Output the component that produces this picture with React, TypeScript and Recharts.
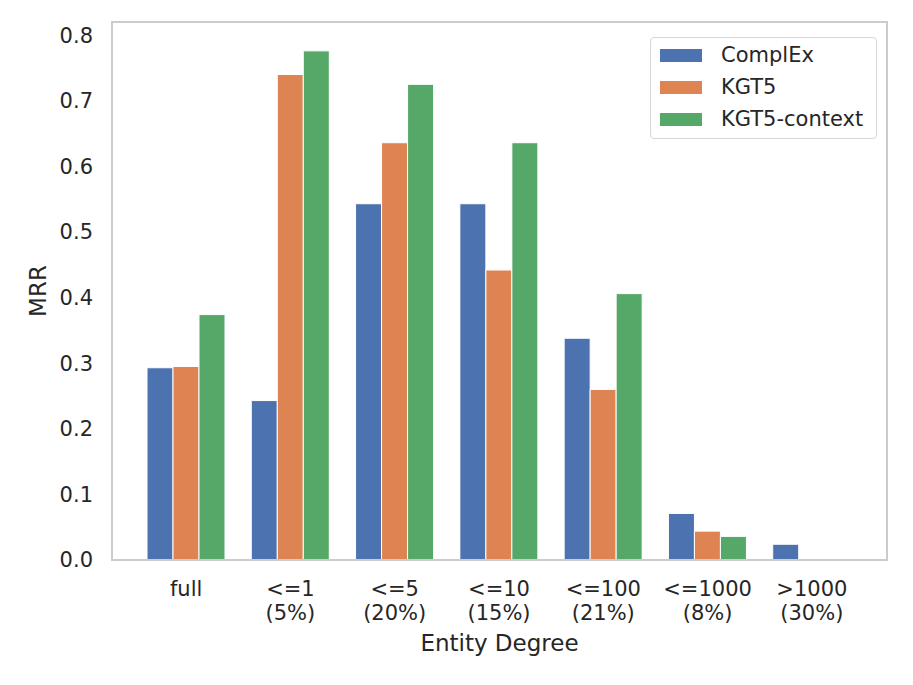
import React from "react";
import { BarChart, Bar, XAxis, YAxis, Label } from "recharts";

const categories = ["full", "<=1", "<=5", "<=10", "<=100", "<=1000", ">1000"];
const shares = ["", "(5%)", "(20%)", "(15%)", "(21%)", "(8%)", "(30%)"];
const complex = [0.293, 0.243, 0.543, 0.543, 0.338, 0.071, 0.024];
const kgt5 = [0.295, 0.74, 0.636, 0.442, 0.26, 0.044, 0];
const kgt5Context = [0.374, 0.776, 0.725, 0.636, 0.406, 0.036, 0];
const yTicks = [0, 0.1, 0.2, 0.3, 0.4, 0.5, 0.6, 0.7, 0.8];

const SERIES = [
  { key: "complex", name: "ComplEx", color: "#4c72b0" },
  { key: "kgt5", name: "KGT5", color: "#dd8452" },
  { key: "context", name: "KGT5-context", color: "#55a868" },
];

const FONT = "DejaVu Sans, sans-serif";
const TEXT = "#262626";
const FRAME = "#cccccc";
const TICK_SIZE = 21;

const data = categories.map((c, i) => ({
  cat: c,
  complex: complex[i],
  kgt5: kgt5[i],
  context: kgt5Context[i],
}));

const XTick = (props: any) => {
  const { x, y, payload, index } = props;
  const share = shares[index] ?? "";
  return (
    <text x={x} y={y + 36} textAnchor="middle" fontSize={TICK_SIZE} fill={TEXT} fontFamily={FONT}>
      <tspan x={x}>{payload.value}</tspan>
      {share && (
        <tspan x={x} dy={24}>
          {share}
        </tspan>
      )}
    </text>
  );
};

const LegendBox = () => (
  <div
    style={{
      position: "absolute",
      left: 650,
      top: 37,
      width: 227,
      height: 102,
      border: "1.5px solid #d6d6d6",
      borderRadius: 4,
      background: "#fff",
      padding: "1px 0 0 9px",
      fontFamily: FONT,
      fontSize: TICK_SIZE,
      color: TEXT,
      boxSizing: "border-box",
    }}
  >
    {SERIES.map((s) => (
      <div key={s.key} style={{ display: "flex", alignItems: "center", height: 32 }}>
        <span style={{ display: "inline-block", width: 42, height: 13, background: s.color, marginRight: 19 }} />
        <span>{s.name}</span>
      </div>
    ))}
  </div>
);

const MrrLabel = (props: any) => {
  const vb = props.viewBox || {};
  const cy = vb.y + vb.height / 2;
  return (
    <text
      x={38}
      y={cy}
      transform={`rotate(-90, 38, ${cy})`}
      textAnchor="middle"
      dominantBaseline="central"
      fontSize={23}
      fill={TEXT}
      fontFamily={FONT}
    >
      MRR
    </text>
  );
};

export default function App() {
  return (
    <div style={{ position: "absolute", left: 0, top: 0, width: 913, height: 685, background: "#fff" }}>
      <BarChart
        width={913}
        height={685}
        data={data}
        margin={{ top: 22, right: 26, left: 0, bottom: 0 }}
        barCategoryGap={13}
        barGap={0}
      >
        <XAxis
          dataKey="cat"
          height={125}
          padding={{ left: 22, right: 23 }}
          tickLine={false}
          tickSize={0}
          tickMargin={0}
          axisLine={false}
          tick={<XTick />}
          interval={0}
        >
          <Label
            value="Entity Degree"
            position="insideBottom"
            offset={34}
            style={{ fontSize: 23, fill: TEXT, fontFamily: FONT }}
          />
        </XAxis>
        <YAxis
          width={112}
          domain={[0, 0.82]}
          ticks={yTicks}
          allowDataOverflow
          tickLine={false}
          tickSize={0}
          tickMargin={19}
          tickFormatter={(v: number) => v.toFixed(1)}
          tick={{ fontSize: TICK_SIZE, fill: TEXT, fontFamily: FONT }}
          axisLine={false}
        >
          <Label content={<MrrLabel />} />
        </YAxis>
        {SERIES.map((s) => (
          <Bar
            key={s.key}
            dataKey={s.key}
            name={s.name}
            fill={s.color}
            stroke="#ffffff"
            strokeWidth={1}
            isAnimationActive={false}
          />
        ))}
      </BarChart>
      <div
        style={{
          position: "absolute",
          left: 111,
          top: 21,
          width: 777,
          height: 540,
          border: `2px solid ${FRAME}`,
          boxSizing: "border-box",
          pointerEvents: "none",
        }}
      />
      <LegendBox />
    </div>
  );
}
